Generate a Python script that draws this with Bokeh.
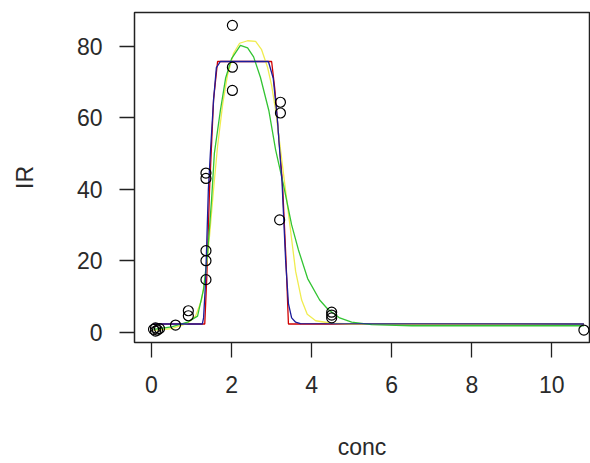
from bokeh.plotting import figure
from bokeh.models import Range1d, FixedTicker
from bokeh.embed import file_html
from bokeh.resources import INLINE

# observed data
conc = [0.05, 0.1, 0.1, 0.15, 0.2, 0.6, 0.92, 0.92, 1.36, 1.36, 1.36, 1.36, 1.36,
        2.02, 2.02, 2.02, 3.22, 3.22, 3.2, 4.5, 4.5, 4.5, 10.8]
IR = [0.8, 0.3, 1.2, 0.6, 1.0, 2.0, 6.0, 4.6, 44.5, 43.0, 22.8, 20.0, 14.7,
      85.8, 74.1, 67.6, 64.3, 61.3, 31.4, 5.6, 4.8, 4.0, 0.6]

# fitted curves
red_x = [0.05, 1.33, 1.38, 1.45, 1.55, 1.65, 3.0, 3.08, 3.27, 3.36, 3.42, 10.8]
red_y = [2.3, 2.3, 15, 40, 65, 75.7, 75.7, 68, 42, 20, 2.3, 2.3]

blue_x = [0.05, 1.27, 1.3, 1.35, 1.42, 1.47, 1.55, 1.62, 1.72, 2.92, 3.04, 3.14,
          3.26, 3.35, 3.42, 3.5, 3.6, 3.72, 10.8]
blue_y = [2.3, 2.3, 4, 14, 40, 50, 65, 74, 75.7, 75.7, 71, 60,
          42, 20, 8, 4, 2.8, 2.4, 2.3]

yellow_x = [0.05, 0.5, 0.9, 1.1, 1.25, 1.35, 1.45, 1.55, 1.65, 1.78, 1.9, 2.05, 2.2,
            2.4, 2.6, 2.75, 2.9, 3.0, 3.1, 3.2, 3.3, 3.4, 3.5, 3.6, 3.75, 3.89, 4.1,
            4.5, 5.0, 10.8]
yellow_y = [0.5, 1.0, 2.5, 4.5, 9, 16, 27, 40, 52, 64, 72, 78, 80.8,
            81.5, 81.3, 79, 74, 69, 62, 53, 44, 35, 26, 17, 9, 5, 3.2,
            2.5, 2.3, 2.3]

green_x = [0.05, 0.5, 0.9, 1.15, 1.3, 1.4, 1.5, 1.57, 1.72, 1.85, 2.0, 2.22, 2.4,
           2.55, 2.72, 2.93, 3.1, 3.3, 3.5, 3.67, 3.9, 4.2, 4.4, 4.7, 5.0, 5.5,
           6.5, 10.8]
green_y = [0.8, 1.5, 2.8, 4.5, 12, 22, 37, 50, 62, 71, 76.5, 80.2, 79.5,
           77, 71.3, 62, 51, 41, 30, 23, 15, 9, 6.5, 4, 2.8, 2.1,
           1.8, 1.8]

x_ticks = [0, 2, 4, 6, 8, 10]
y_ticks = [0, 20, 40, 60, 80]
x_title = "conc"
y_title = "IR"

FONT = "Liberation Sans"

p = figure(width=590, height=463, output_backend="svg", toolbar_location=None,
           x_range=Range1d(-0.425, 10.94), y_range=Range1d(-2.88, 89.4),
           min_border_left=134, min_border_right=1, min_border_top=12,
           min_border_bottom=121)

p.background_fill_color = "white"
p.border_fill_color = "white"
p.outline_line_color = "#222222"
p.outline_line_width = 1.5
p.xgrid.visible = False
p.ygrid.visible = False

p.line(red_x, red_y, line_color="#d00000", line_width=1.3)
p.line(yellow_x, yellow_y, line_color="#f0ec50", line_width=1.3)
p.line(green_x, green_y, line_color="#33c433", line_width=1.3)
p.line(blue_x, blue_y, line_color="#1c1c9a", line_width=1.3)

p.scatter(conc, IR, marker="circle", size=10, fill_color=None,
          line_color="black", line_width=1.2)

for ax, ticks in ((p.xaxis, x_ticks), (p.yaxis, y_ticks)):
    ax.ticker = FixedTicker(ticks=ticks)
    ax.axis_line_color = None
    ax.major_tick_line_color = "#222222"
    ax.major_tick_line_width = 1.3
    ax.major_tick_out = 15
    ax.major_tick_in = 0
    ax.minor_tick_line_color = None
    ax.major_label_text_font = FONT
    ax.major_label_text_font_size = "23px"
    ax.major_label_text_color = "#2a2a2a"
    ax.axis_label_text_font = FONT
    ax.axis_label_text_font_size = "23px"
    ax.axis_label_text_font_style = "normal"
    ax.axis_label_text_color = "#2a2a2a"

p.xaxis.axis_label = x_title
p.yaxis.axis_label = y_title
p.xaxis.major_label_standoff = 18
p.yaxis.major_label_standoff = 17
p.yaxis.major_label_orientation = "horizontal"
p.xaxis.axis_label_standoff = 38
p.yaxis.axis_label_standoff = 36

open("out.html", "w").write(file_html(p, INLINE))
